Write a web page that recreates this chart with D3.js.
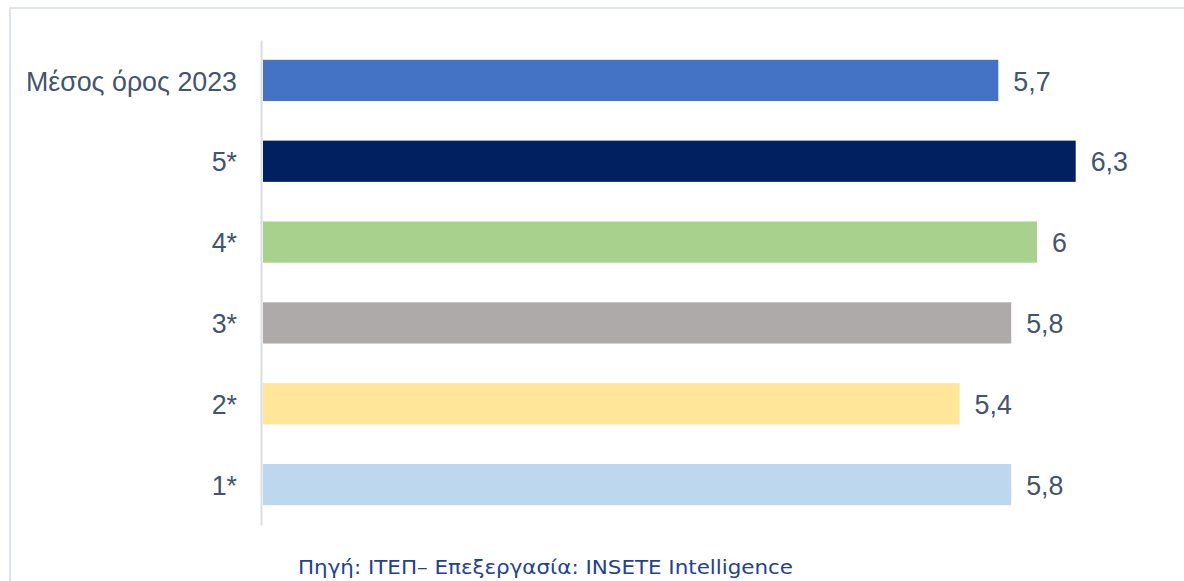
<!DOCTYPE html>
<html>
<head>
<meta charset="utf-8">
<script src="https://cdn.jsdelivr.net/npm/d3@7"></script>
<style>
  html, body { margin: 0; padding: 0; background: #fff; }
  svg { display: block; }
</style>
</head>
<body>
<svg class="chart"></svg>
<script>

// data
var categories = ["Μέσος όρος 2023", "5*", "4*", "3*", "2*", "1*"];
var values = [5.7, 6.3, 6, 5.8, 5.4, 5.8];
var valueLabels = ["5,7", "6,3", "6", "5,8", "5,4", "5,8"];
var barColors = ["#4472C4", "#002060", "#A9D18E", "#AEAAAA", "#FFE699", "#BDD7EE"];
var sourceText = "Πηγή: ΙΤΕΠ– Επεξεργασία: INSETE Intelligence";

var width = 1184
  , height = 581
  , textColor = "#44546A"
  , fontSize = 26.8;

var chart = d3.select(".chart").attr("width", width).attr("height", height);

// light frame round the chart
chart.append("rect")
  .attr("x", 10).attr("y", 8)
  .attr("width", width + 20).attr("height", height + 20)
  .attr("fill", "none")
  .attr("stroke", "#DFE3EB")
  .attr("stroke-width", 2);

var data = categories.map(function(c, i){
  return {cat: c, value: values[i], label: valueLabels[i], color: barColors[i]};
});

// x scale
var x = d3.scaleLinear().domain([0, 7]).range([263, 1166]);

// y scale
var y = d3.scaleBand()
  .domain(categories)
  .range([40, 525])
  .paddingInner(0.49)
  .paddingOuter(0.245);

// bars
chart.selectAll("rect.bar")
  .data(data)
  .enter().append("rect")
  .attr("class", "bar")
  .attr("x", x(0))
  .attr("y", function(d){ return y(d.cat); })
  .attr("width", function(d){ return x(d.value) - x(0); })
  .attr("height", y.bandwidth())
  .attr("fill", function(d){ return d.color; });

// value labels
chart.selectAll("text.value")
  .data(data)
  .enter().append("text")
  .attr("class", "value")
  .attr("x", function(d){ return x(d.value) + 15; })
  .attr("y", function(d){ return y(d.cat) + y.bandwidth() / 2; })
  .attr("dy", "0.38em")
  .attr("font-family", "'Liberation Sans', Arial, sans-serif")
  .attr("font-size", fontSize)
  .attr("fill", textColor)
  .text(function(d){ return d.label; });

// y axis
var yAxis = d3.axisLeft(y).tickSize(0).tickPadding(24);

var axisG = chart.append("g")
  .attr("transform", "translate(" + 261 + ",0)")
  .call(yAxis);

axisG.select(".domain")
  .attr("stroke", "#D9DDE5")
  .attr("stroke-width", 2);

axisG.selectAll("text")
  .attr("dy", "0.38em")
  .attr("font-family", "'Liberation Sans', Arial, sans-serif")
  .attr("font-size", fontSize)
  .attr("fill", textColor);

// source note
chart.append("text")
  .attr("x", 298)
  .attr("y", 574)
  .attr("font-family", "'DejaVu Sans', Verdana, sans-serif")
  .attr("font-size", 19)
  .attr("fill", "#22428F")
  .attr("textLength", 495)
  .attr("lengthAdjust", "spacingAndGlyphs")
  .text(sourceText);

</script>
</body>
</html>
